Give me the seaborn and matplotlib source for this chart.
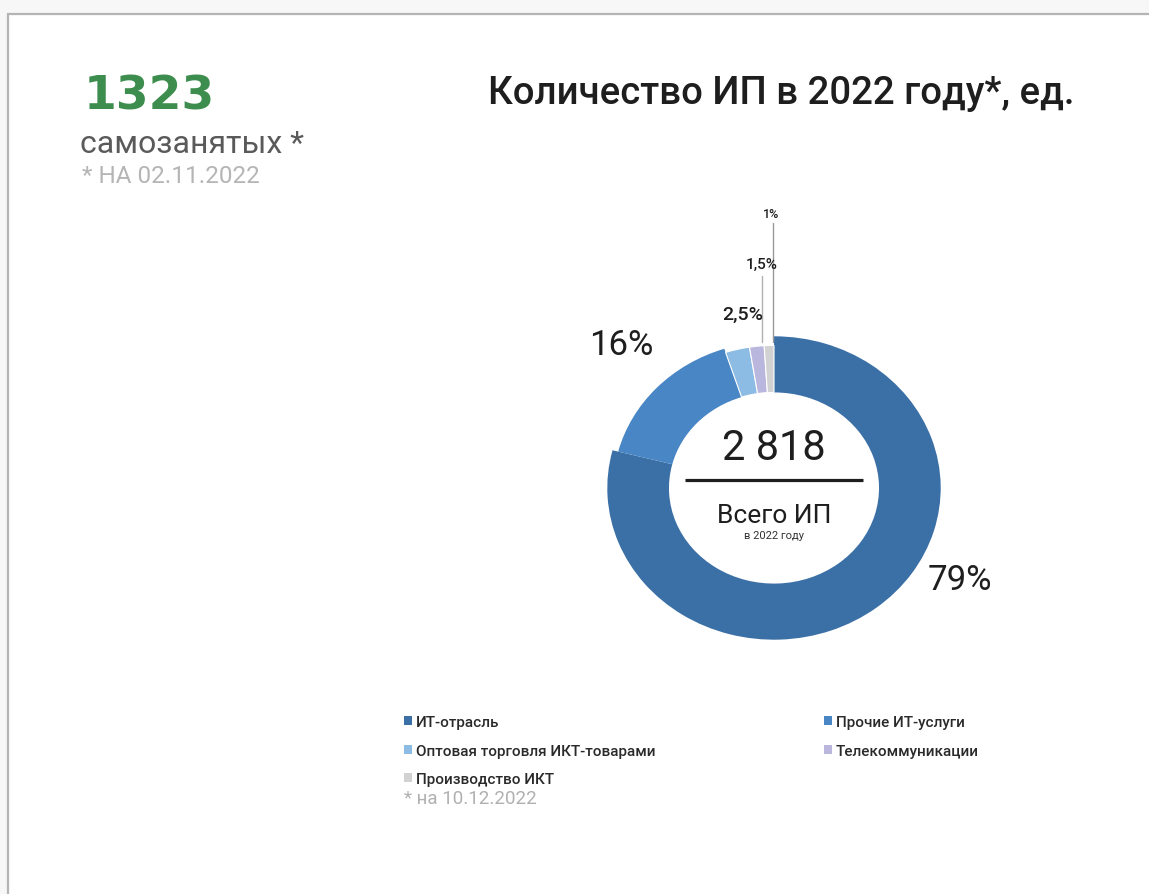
import matplotlib
matplotlib.use("Agg")
import matplotlib.pyplot as plt
from matplotlib.patches import Rectangle, Patch
import seaborn as sns

# ---- data ----
categories = ["ИТ-отрасль", "Прочие ИТ-услуги", "Оптовая торговля ИКТ-товарами",
              "Телекоммуникации", "Производство ИКТ"]
shares = [79, 16, 2.5, 1.5, 1]
share_labels = ["79%", "16%", "2,5%", "1,5%", "1%"]
total_ip = "2 818"
self_employed = "1323"
colors = ["#3b70a6", "#4886c5", "#8cbbe3", "#b9b7dd", "#d2d2d2"]

sns.set_theme(style="white")
plt.rcParams["font.family"] = ["Roboto", "DejaVu Sans"]

W, H = 1149, 895
fig = plt.figure(figsize=(W / 100, H / 100), dpi=100, facecolor="#f7f7f7")


def fx(px):
    return px / W


def fy(py):
    return 1 - py / H


# card background with a grey border on the top and left
fig.patches.append(Rectangle((fx(8), -0.05), 1.1, fy(15) + 0.05, transform=fig.transFigure,
                             facecolor="white", edgecolor="#b4b4b4", linewidth=1.6, zorder=-5))

# ---- headline figures on the left ----
fig.text(fx(84), fy(109), self_employed, fontsize=34, fontweight="bold", color="#3c8d4e",
         family=["DejaVu Sans"], ha="left", va="baseline")
fig.text(fx(80), fy(153), "самозанятых *", fontsize=23, color="#5a5a5a", ha="left", va="baseline")
fig.text(fx(82), fy(183), "* НА 02.11.2022", fontsize=17.5, color="#b5b5b5", ha="left", va="baseline")

# ---- title ----
fig.text(fx(488), fy(104), "Количество ИП в 2022 году*, ед.", fontsize=27.6, fontweight="medium",
         color="#1e1e1e", ha="left", va="baseline")

# ---- donut ----
cx, cy = 774, 489
ax_l, ax_r, ax_t, ax_b = 524, 1024, 180, 680
ax = fig.add_axes([fx(ax_l), fy(ax_b), (ax_r - ax_l) / W, (ax_b - ax_t) / H], zorder=2)
ax.set_facecolor("none")

wedges, _ = ax.pie(shares, colors=colors, startangle=90, counterclock=False, radius=1.0,
                   wedgeprops=dict(width=0.37, edgecolor="white", linewidth=0.6))
inner = 0.63
outer_r = [1.0, 0.965, 0.94, 0.94, 0.94]
edge_w = [0, 0, 0.8, 0.8, 0.8]
for w, r, lw in zip(wedges, outer_r, edge_w):
    w.set_radius(r)
    w.set_width(r - inner)
    w.set_linewidth(lw)

ax.set_aspect("auto")
ax.set_xlim(-(cx - ax_l) / 166.7, (ax_r - cx) / 166.7)
ax.set_ylim(-(ax_b - cy) / 151.7, (cy - ax_t) / 151.7)
ax.axis("off")

# slice labels
label_pos = [(1.115, -0.60), (-0.915, 0.945), (-0.19, 1.15), (-0.075, 1.475), (-0.02, 1.81)]
label_size = [25, 25, 14, 11, 9]
label_weight = ["normal", "normal", "medium", "medium", "medium"]
for txt, (lx, ly), fs, fw in zip(share_labels, label_pos, label_size, label_weight):
    ax.text(lx, ly, txt, fontsize=fs, fontweight=fw, color="#1e1e1e", ha="center", va="center")

# leader lines for the thin slices
ax.plot([-0.006, -0.006], [1.75, 0.96], color="#9a9a9a", lw=1.0)
ax.plot([-0.07, -0.07], [1.40, 0.96], color="#b0b0b0", lw=1.0)

# centre caption
ax.text(0, 0.27, total_ip, fontsize=30, color="#1e1e1e", ha="center", va="center")
ax.plot([-0.535, 0.535], [0.053, 0.053], color="#1e1e1e", lw=2.3, solid_capstyle="butt")
ax.text(0, -0.18, "Всего ИП", fontsize=19, color="#1e1e1e", ha="center", va="center")
ax.text(0, -0.31, "в 2022 году", fontsize=8, color="#333333", ha="center", va="center")

# ---- legend (row-major order in two columns) ----
handles = [Patch(facecolor=c, edgecolor="none") for c in colors]
order = [0, 2, 4, 1, 3]
leg = fig.legend([handles[i] for i in order], [categories[i] for i in order],
                 ncol=2, loc="upper left", bbox_to_anchor=(fx(404), fy(716)),
                 frameon=False, prop=dict(size=11, weight="medium"),
                 handlelength=0.55, handleheight=0.55,
                 handletextpad=0.25, labelspacing=0.95, columnspacing=11.0,
                 borderaxespad=0, borderpad=0)
for t in leg.get_texts():
    t.set_color("#2a2a2a")

fig.text(fx(404), fy(804), "* на 10.12.2022", fontsize=13.5, color="#b0b0b0", ha="left", va="baseline")

fig.savefig("out.png", dpi=100, facecolor=fig.get_facecolor())
